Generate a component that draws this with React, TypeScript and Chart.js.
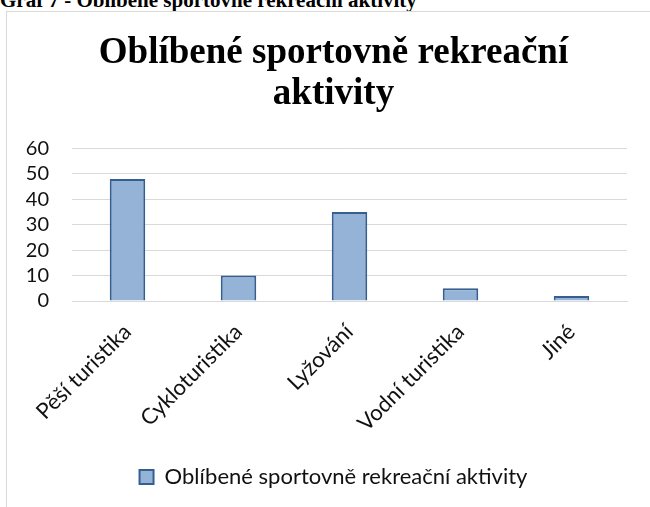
import React, { useEffect, useRef } from "react";
import { Chart, registerables } from "chart.js";

Chart.register(...registerables);

const categories = ["Pěší turistika", "Cykloturistika", "Lyžování", "Vodní turistika", "Jiné"];
const values = [48, 10, 35, 5, 2];
const seriesName = "Oblíbené sportovně rekreační aktivity";
const chartTitle = ["Oblíbené sportovně rekreační", "aktivity"];
const caption = "Graf 7 - Oblíbené sportovně rekreační aktivity";
const yMin = 0;
const yMax = 60;
const yStep = 10;

const SANS = "Lato";
const SERIF = "'Liberation Serif', 'Times New Roman', serif";

const widenYLabelArea = {
  id: "widenYLabelArea",
  afterLayout(chart: any) {
    const y = chart.scales.y;
    if (y) y.left = 0;
  },
};

export default function App() {
  const canvasRef = useRef<HTMLCanvasElement | null>(null);

  useEffect(() => {
    const canvas = canvasRef.current;
    if (!canvas) return;
    const chart = new Chart(canvas, {
      type: "bar",
      data: {
        labels: categories,
        datasets: [
          {
            label: seriesName,
            data: values,
            backgroundColor: "#95B3D7",
            borderColor: "#365F91",
            borderWidth: 2,
            borderSkipped: "bottom",
            categoryPercentage: 1,
            barPercentage: 0.32,
          },
        ],
      },
      plugins: [widenYLabelArea],
      options: {
        animation: false,
        responsive: false,
        maintainAspectRatio: false,
        layout: { padding: { left: 40, right: 23, top: 0, bottom: 9 } },
        plugins: {
          title: {
            display: true,
            text: chartTitle,
            color: "#000",
            font: { family: SERIF, size: 37, weight: "bold", lineHeight: 1.1 },
            padding: { top: 33, bottom: 34 },
          },
          legend: {
            display: true,
            position: "bottom",
            labels: {
              color: "#111",
              font: { family: SANS, size: 22 },
              boxWidth: 14,
              boxHeight: 14,
              padding: 10,
            },
          },
          tooltip: { enabled: false },
        },
        scales: {
          x: {
            grid: { display: false, drawTicks: false },
            border: { display: true, color: "#D9D9D9", width: 1 },
            ticks: {
              color: "#111",
              font: { family: SANS, size: 22 },
              minRotation: 45,
              maxRotation: 45,
              padding: 18,
              autoSkip: false,
            },
            afterFit: (scale: any) => {
              scale.height = 155;
            },
          },
          y: {
            min: yMin,
            max: yMax,
            grid: { color: "#D9D9D9", lineWidth: 1, drawTicks: false },
            border: { display: false },
            ticks: {
              stepSize: yStep,
              autoSkip: false,
              color: "#111",
              font: { family: SANS, size: 20 },
              padding: 23,
            },
            afterFit: (scale: any) => {
              scale.width = 32;
            },
          },
        },
      },
    });
    return () => chart.destroy();
  }, []);

  return (
    <div
      style={{
        position: "fixed",
        left: 0,
        top: 0,
        width: 650,
        height: 507,
        background: "#fff",
        overflow: "hidden",
      }}
    >
      <div
        style={{
          position: "absolute",
          left: 0,
          top: -10,
          fontFamily: SERIF,
          fontWeight: "bold",
          fontSize: 21,
          lineHeight: "21px",
          whiteSpace: "nowrap",
          color: "#000",
        }}
      >
        {caption}
      </div>
      <div
        style={{
          position: "absolute",
          left: 6,
          top: 11,
          width: 700,
          height: 600,
          border: "1px solid #D9D9D9",
          boxSizing: "border-box",
        }}
      />
      <canvas
        ref={canvasRef}
        width={650}
        height={507}
        style={{ position: "absolute", left: 0, top: 0, width: 650, height: 507 }}
      />
    </div>
  );
}
